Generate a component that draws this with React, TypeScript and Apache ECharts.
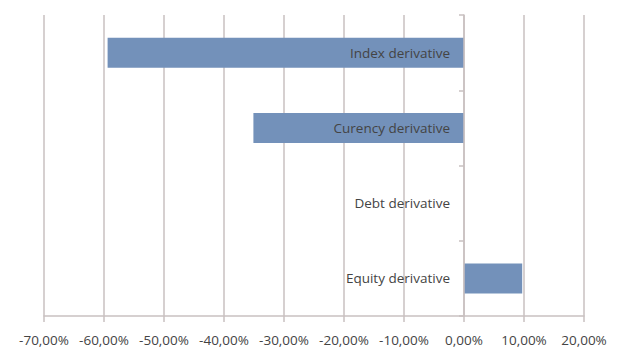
import React, { useEffect, useRef } from "react";
import * as echarts from "echarts";

// Categories listed bottom-to-top (ECharts category y-axis order)
const categories = [
  "Equity derivative",
  "Debt derivative",
  "Curency derivative",
  "Index derivative",
];
// Change in percent
const values = [9.7, 0, -35.1, -59.4];

const axisMin = -70;
const axisMax = 20;
const axisStep = 10;

const WIDTH = 622;
const HEIGHT = 349;
const GRID_LEFT = 44;
const GRID_RIGHT = 38;

const gridColor = "#c9c1c1";
const textColor = "#444444";
const barColor = "#7391ba";
const fontFamily = "'Open Sans', 'Noto Sans', sans-serif";

const fmtPercent = (v: number) => v.toFixed(2).replace(".", ",") + "%";

// Horizontal distance from the grid's left edge to the zero line
const zeroOffset =
  ((0 - axisMin) / (axisMax - axisMin)) * (WIDTH - GRID_LEFT - GRID_RIGHT);

export default function App() {
  const ref = useRef<HTMLDivElement>(null);

  useEffect(() => {
    if (!ref.current) return;
    const chart = echarts.init(ref.current, undefined, { renderer: "svg" });
    chart.setOption({
      animation: false,
      backgroundColor: "#ffffff",
      grid: {
        left: GRID_LEFT,
        right: GRID_RIGHT,
        top: 15,
        bottom: 33,
        containLabel: false,
      },
      xAxis: {
        type: "value",
        min: axisMin,
        max: axisMax,
        interval: axisStep,
        axisLine: { show: true, lineStyle: { color: gridColor, width: 1.5 } },
        axisTick: { show: true, length: 6, lineStyle: { color: gridColor, width: 1.5 } },
        splitLine: { show: true, lineStyle: { color: gridColor, width: 1.5 } },
        axisLabel: {
          formatter: fmtPercent,
          color: textColor,
          fontSize: 13.5,
          fontFamily,
          margin: 17,
        },
      },
      yAxis: {
        type: "category",
        data: categories,
        z: 10,
        // place the whole category axis on the zero line
        offset: -zeroOffset,
        axisLine: { show: true, onZero: false, lineStyle: { color: gridColor, width: 1.5 } },
        axisTick: { show: true, length: 5, lineStyle: { color: gridColor, width: 1.5 } },
        splitLine: { show: false },
        axisLabel: {
          color: textColor,
          fontSize: 13.5,
          fontFamily,
          margin: 14,
          padding: [5, 0, 0, 0],
        },
      },
      series: [
        {
          type: "bar",
          data: values,
          barWidth: 30,
          itemStyle: { color: barColor },
        },
      ],
    });
    return () => chart.dispose();
  }, []);

  return (
    <div
      ref={ref}
      style={{ position: "fixed", left: 0, top: 0, width: WIDTH, height: HEIGHT }}
    />
  );
}
